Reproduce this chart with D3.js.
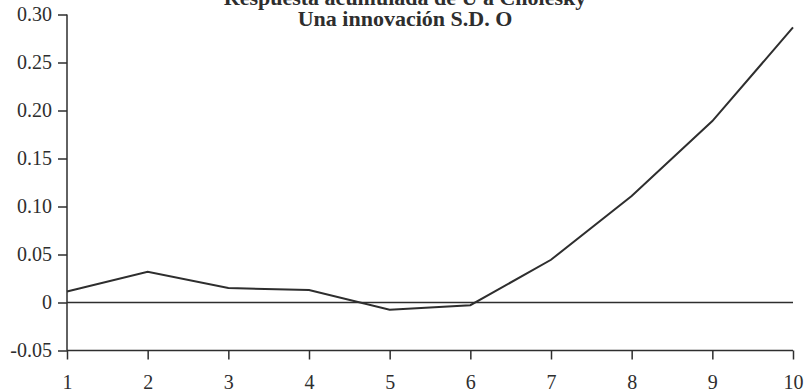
<!DOCTYPE html>
<html><head><meta charset="utf-8">
<script src="https://cdn.jsdelivr.net/npm/d3@7"></script>
<style>body{margin:0;background:#fff}svg{display:block}</style>
</head><body>
<svg id="c" width="806" height="391"></svg>
<script>
const periods = [1,2,3,4,5,6,7,8,9,10];
const response = [0.0115,0.032,0.015,0.013,-0.0075,-0.0028,0.0445,0.111,0.189,0.2865];
const yTicks = [-0.05,0,0.05,0.10,0.15,0.20,0.25,0.30];
const yTickLabels = ["-0.05","0","0.05","0.10","0.15","0.20","0.25","0.30"];
const titleLines = ["Respuesta acumulada de U a Cholesky","Una innovación S.D. O"];

const svg = d3.select("#c");
const x = d3.scaleLinear().domain([1,10]).range([67,793]);
const y = d3.scaleLinear().domain([-0.05,0.30]).range([350.5,14.5]);
const ink = "#2e2e2e";
const font = "Liberation Serif";

// y axis
const ya = svg.append("g").attr("transform","translate(67,0)")
  .call(d3.axisLeft(y).tickValues(yTicks).tickFormat((d,i)=>yTickLabels[i]).tickSize(9).tickPadding(6));
ya.select(".domain").attr("stroke",ink).attr("stroke-width",1.5).attr("d","M0,"+y(0.30)+"V"+(y(-0.05)));
ya.selectAll(".tick line").attr("stroke",ink).attr("stroke-width",1.5);
ya.selectAll(".tick text").attr("font-family",font).attr("font-size",20).attr("fill",ink);

// x axis at -0.05
const xa = svg.append("g").attr("transform","translate(0,"+y(-0.05)+")")
  .call(d3.axisBottom(x).tickValues(periods).tickFormat(d3.format("d")).tickSize(9).tickPadding(0));
xa.select(".domain").attr("stroke",ink).attr("stroke-width",1.5).attr("d","M"+x(1)+",0H"+x(10));
xa.selectAll(".tick line").attr("stroke",ink).attr("stroke-width",1.5);
xa.selectAll(".tick text").attr("font-family",font).attr("font-size",20).attr("fill",ink)
  .attr("dy",null).attr("y",38);

// zero line
svg.append("line").attr("x1",x(1)).attr("x2",x(10)).attr("y1",y(0)).attr("y2",y(0))
  .attr("stroke",ink).attr("stroke-width",1.5);

// series
svg.append("path").datum(periods.map((p,i)=>[p,response[i]]))
  .attr("fill","none").attr("stroke",ink).attr("stroke-width",2)
  .attr("d",d3.line().x(d=>x(d[0])).y(d=>y(d[1])));

// title
titleLines.forEach((t,i)=>{
  svg.append("text").attr("x",405).attr("y",5+i*21).attr("text-anchor","middle")
    .attr("font-family","Liberation Serif").attr("font-weight","bold").attr("font-size",22)
    .attr("fill",ink).text(t);
});
</script>
</body></html>
